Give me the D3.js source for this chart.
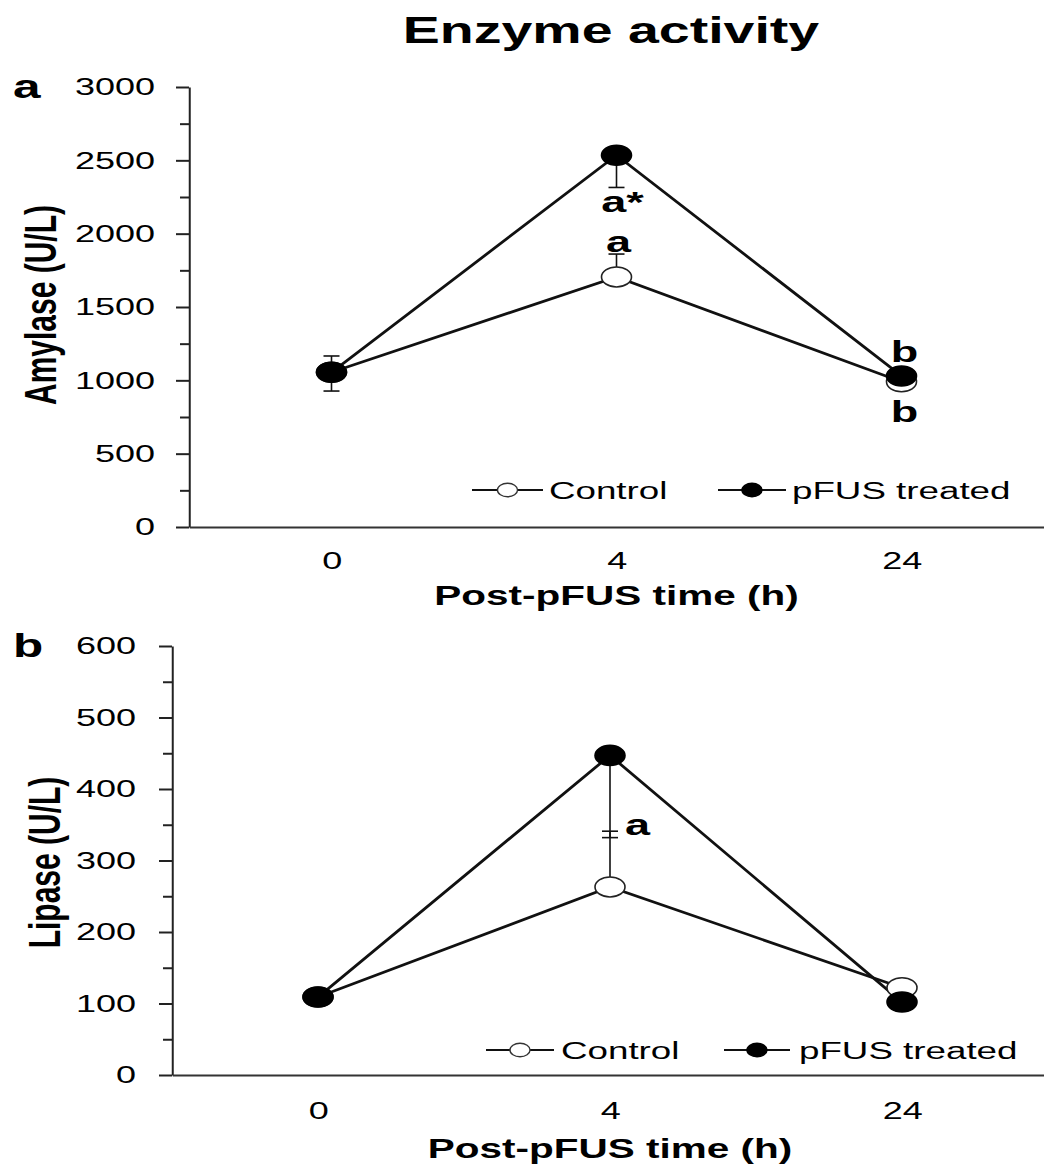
<!DOCTYPE html>
<html><head><meta charset="utf-8">
<script src="https://cdn.jsdelivr.net/npm/d3@7"></script>
<style>
body{margin:0;background:#fff}
svg text{font-family:"Liberation Sans",Arial,Helvetica,sans-serif;fill:#000}
svg line, svg path, svg circle{vector-effect:non-scaling-stroke}
</style>
</head><body>
<svg id="c" width="1044" height="1167"></svg>
<script>
// ---------- data ----------
const categories = ["0", "4", "24"];
const seriesNames = ["Control", "pFUS treated"];
const chartTitle = "Enzyme activity";
const xTitle = "Post-pFUS time (h)";

const amylaseControl = [1055, 1705, 990];
const amylaseTreated = [1055, 2535, 1030];
const amylaseControlErrUp = [111, 156, 0];
const amylaseTreatedErrDown = [128, 220, 0];
const amylaseTicks = [0, 500, 1000, 1500, 2000, 2500, 3000];
const amylaseLetters = [
  {cat: "4", value: 2148, text: "a*"},
  {cat: "4", value: 1875, text: "a"},
  {cat: "24", value: 1125, text: "b"},
  {cat: "24", value: 716, text: "b"}
];

const lipaseControl = [109, 263, 122];
const lipaseTreated = [109, 447, 102];
const lipaseControlErrUp = [0, 78, 0];
const lipaseTreatedErrDown = [0, 115, 0];
const lipaseTicks = [0, 100, 200, 300, 400, 500, 600];
const lipaseLetters = [
  {cat: "4", value: 336, text: "a"}
];

// ---------- drawing ----------
const SX = 1.5;                 // horizontal stretch of the original figure
const ix = px => px / SX;
const svg = d3.select("#c");
const root = svg.append("g").attr("transform", `scale(${SX},1)`);

root.append("text")
  .attr("x", ix(611)).attr("y", 43)
  .attr("text-anchor", "middle")
  .attr("font-size", 37).attr("font-weight", "bold")
  .text(chartTitle);

function panel(p) {
  const g = root.append("g");
  const x = d3.scalePoint().domain(categories).range([ix(p.left), ix(p.right)]).padding(0.5);
  const y = d3.scaleLinear().domain([0, p.max]).range([p.bottom, p.top]);
  const step = p.ticks[1] - p.ticks[0];
  const minor = d3.range(step / 2, p.max, step);

  // minor ticks
  g.append("g").attr("transform", `translate(${ix(p.left)},0)`)
    .call(d3.axisLeft(y).tickValues(minor).tickSize(ix(9)).tickFormat(""))
    .call(s => s.select(".domain").remove())
    .call(s => s.selectAll("line").attr("stroke", "#222").attr("stroke-width", 2));

  // major ticks & labels
  g.append("g").attr("transform", `translate(${ix(p.left)},0)`)
    .call(d3.axisLeft(y).tickValues(p.ticks).tickFormat(d3.format("d"))
      .tickSize(ix(13)).tickSizeOuter(0).tickPadding(ix(p.labelGap)))
    .call(s => s.select(".domain").attr("stroke", "#222").attr("stroke-width", 2))
    .call(s => s.selectAll("line").attr("stroke", "#222").attr("stroke-width", 2))
    .call(s => s.selectAll("text").attr("font-size", 24).attr("font-family", null));

  // x axis
  g.append("g").attr("transform", `translate(0,${p.bottom})`)
    .call(d3.axisBottom(x).tickSize(0).tickSizeOuter(0).tickPadding(p.xPad))
    .call(s => s.select(".domain").attr("stroke", "#333").attr("stroke-width", 2.2))
    .call(s => s.selectAll("text").attr("font-size", 24).attr("font-family", null));

  // axis titles
  g.append("text")
    .attr("transform", `translate(${ix(p.yTitleX)},${(p.top + p.bottom) / 2 + p.yTitleShift}) rotate(-90)`)
    .attr("text-anchor", "middle")
    .attr("font-size", 30).attr("font-weight", "bold")
    .text(p.yTitle);
  g.append("text")
    .attr("x", ix((p.left + p.right) / 2)).attr("y", p.xTitleY)
    .attr("text-anchor", "middle")
    .attr("font-size", 27).attr("font-weight", "bold")
    .text(xTitle);
  g.append("text")
    .attr("x", ix(13)).attr("y", p.letterY)
    .attr("font-size", 33).attr("font-weight", "bold")
    .text(p.letter);

  // error bars
  const cap = ix(8);
  function errBars(vals, errs, dir) {
    vals.forEach((v, i) => {
      if (!errs[i]) return;
      const cx = x(categories[i]);
      const y1 = y(v + dir * errs[i]);
      g.append("line").attr("x1", cx).attr("x2", cx).attr("y1", y(v)).attr("y2", y1)
        .attr("stroke", "#111").attr("stroke-width", 1.6);
      g.append("line").attr("x1", cx - cap).attr("x2", cx + cap).attr("y1", y1).attr("y2", y1)
        .attr("stroke", "#111").attr("stroke-width", 1.6);
    });
  }
  errBars(p.control, p.errUp, 1);
  errBars(p.treated, p.errDown, -1);

  // lines
  const line = d3.line().x((d, i) => x(categories[i])).y(d => y(d));
  g.append("path").datum(p.control).attr("d", line)
    .attr("fill", "none").attr("stroke", "#111").attr("stroke-width", 2.8);
  g.append("path").datum(p.treated).attr("d", line)
    .attr("fill", "none").attr("stroke", "#111").attr("stroke-width", 2.8);

  // markers
  g.selectAll(null).data(p.control).join("circle")
    .attr("cx", (d, i) => x(categories[i])).attr("cy", d => y(d)).attr("r", 10)
    .attr("fill", "#fff").attr("stroke", "#222").attr("stroke-width", 1.6);
  g.selectAll(null).data(p.treated).join("circle")
    .attr("cx", (d, i) => x(categories[i])).attr("cy", d => y(d)).attr("r", 10)
    .attr("fill", "#000").attr("stroke", "#000").attr("stroke-width", 1.6);

  // significance letters
  p.letters.forEach(a => {
    g.append("text")
      .attr("x", x(a.cat) + ix(p.letterDx(a))).attr("y", y(a.value))
      .attr("text-anchor", p.letterAnchor)
      .attr("font-size", 30).attr("font-weight", "bold")
      .text(a.text);
  });

  // legend
  const lg = g.append("g");
  p.legend.forEach((L, k) => {
    const cxm = (L.x1 + L.x2) / 2;
    lg.append("line").attr("x1", ix(L.x1)).attr("x2", ix(L.x2))
      .attr("y1", p.legendY).attr("y2", p.legendY)
      .attr("stroke", "#111").attr("stroke-width", 2.2);
    lg.append("circle").attr("cx", ix(cxm)).attr("cy", p.legendY).attr("r", 6.7)
      .attr("fill", k === 0 ? "#fff" : "#000").attr("stroke", k === 0 ? "#333" : "#000")
      .attr("stroke-width", 1.4);
    lg.append("text").attr("x", ix(L.tx)).attr("y", p.legendY + 9)
      .attr("font-size", 24.5).text(seriesNames[k]);
  });
}

panel({
  left: 189, right: 1044, top: 87, bottom: 527, max: 3000,
  ticks: amylaseTicks, labelGap: 21, xPad: 25,
  yTitle: "Amylase (U/L)", yTitleX: 56, yTitleShift: -2,
  xTitleY: 605, letter: "a", letterY: 98,
  control: amylaseControl, treated: amylaseTreated,
  errUp: amylaseControlErrUp, errDown: amylaseTreatedErrDown,
  letters: amylaseLetters, letterAnchor: "middle",
  letterDx: a => (a.text === "a*" ? 6 : (a.cat === "24" ? 3 : 2)),
  legendY: 490,
  legend: [{x1: 472, x2: 543, tx: 549}, {x1: 718, x2: 786, tx: 792}]
});

panel({
  left: 172, right: 1048, top: 646, bottom: 1075, max: 600,
  ticks: lipaseTicks, labelGap: 23, xPad: 27,
  yTitle: "Lipase (U/L)", yTitleX: 60, yTitleShift: 2,
  xTitleY: 1158, letter: "b", letterY: 657,
  control: lipaseControl, treated: lipaseTreated,
  errUp: lipaseControlErrUp, errDown: lipaseTreatedErrDown,
  letters: lipaseLetters, letterAnchor: "start",
  letterDx: a => 15,
  legendY: 1050,
  legend: [{x1: 486, x2: 554, tx: 561}, {x1: 724, x2: 790, tx: 799}]
});
</script>
</body></html>
